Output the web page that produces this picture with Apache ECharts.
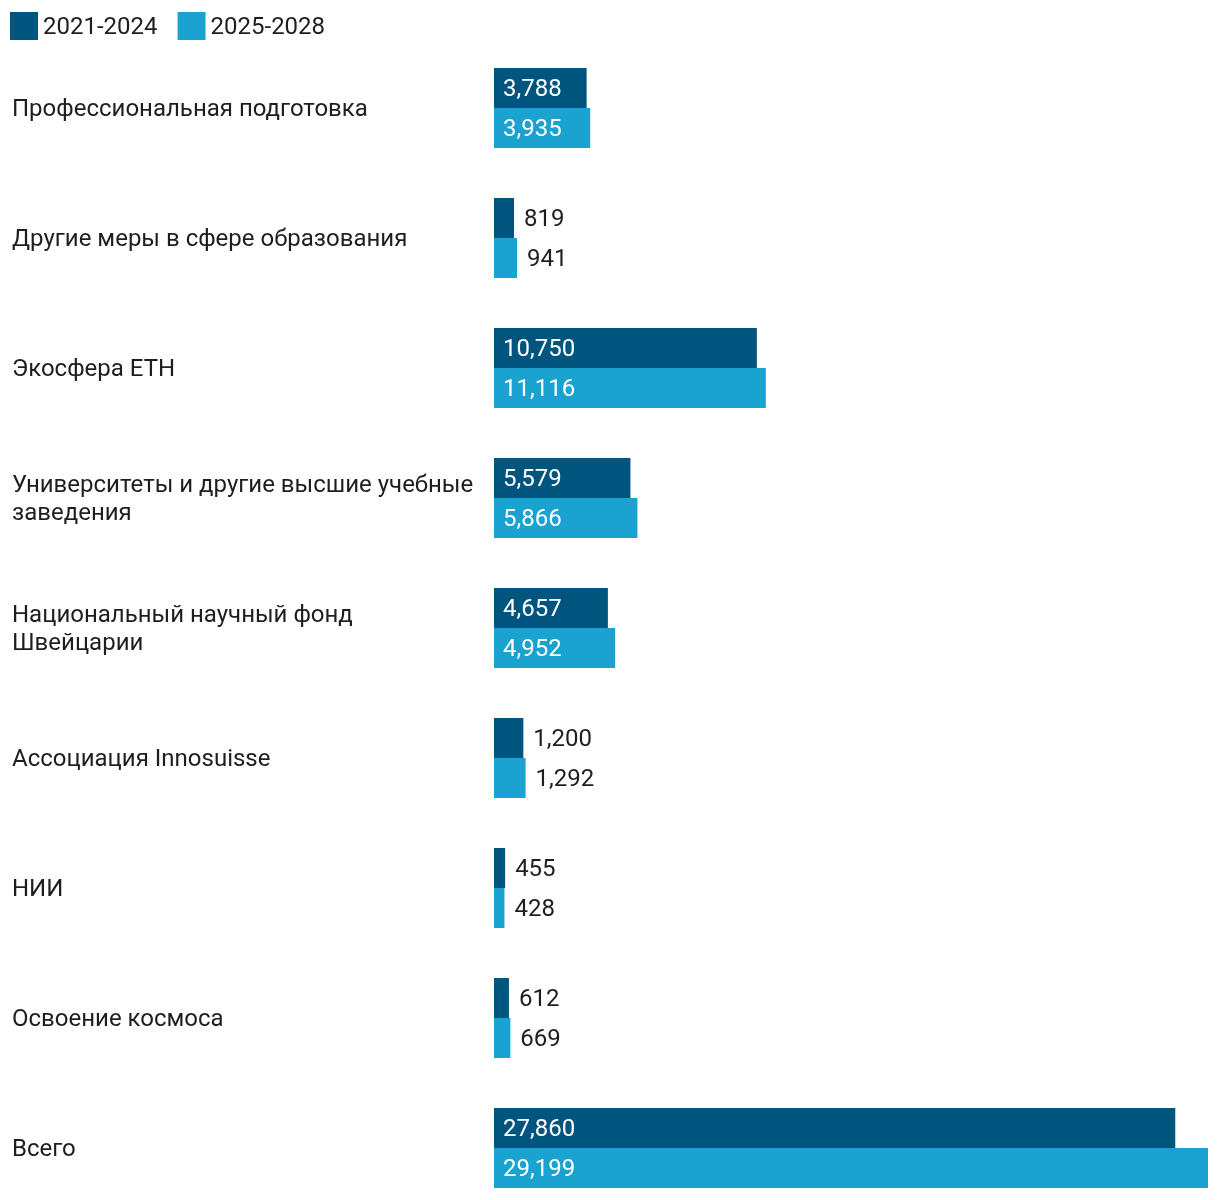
<!DOCTYPE html>
<html><head><meta charset="utf-8">
<script src="https://cdn.jsdelivr.net/npm/echarts@6/dist/echarts.min.js"></script>
<style>html,body{margin:0;padding:0;background:#fff}#c{width:1220px;height:1200px}</style>
</head><body><div id="c"></div>
<script>
const categories = [
  "Профессиональная подготовка",
  "Другие меры в сфере образования",
  "Экосфера ETH",
  "Университеты и другие высшие учебные\nзаведения",
  "Национальный научный фонд\nШвейцарии",
  "Ассоциация Innosuisse",
  "НИИ",
  "Освоение космоса",
  "Всего"
];
const series2021 = [3788, 819, 10750, 5579, 4657, 1200, 455, 612, 27860];
const series2025 = [3935, 941, 11116, 5866, 4952, 1292, 428, 669, 29199];
const seriesNames = ["2021-2024", "2025-2028"];
const colors = ["#00557e", "#1aa2d0"];

const fmt = v => v.toLocaleString('en-US');
function items(arr) {
  return arr.map(v => {
    const inside = v >= 2000;
    return {
      value: v,
      label: inside
        ? { position: 'insideLeft', distance: 9, color: '#ffffff' }
        : { position: 'right', distance: 10, color: '#1e1e1e' }
    };
  });
}
const chart = echarts.init(document.getElementById('c'));
chart.setOption({
  animation: false,
  textStyle: { fontFamily: 'Roboto' },
  legend: {
    left: 10, top: 12, padding: 0, itemWidth: 28, itemHeight: 28, itemGap: 20,
    icon: 'rect',
    formatter: n => '{t|' + n + '}',
    textStyle: { fontSize: 24, color: '#1e1e1e', fontFamily: 'Roboto',
      rich: { t: { fontSize: 24, color: '#1e1e1e', fontFamily: 'Roboto', lineHeight: 28, padding: [4, 0, 0, 0] } } },
    data: seriesNames
  },
  grid: { left: 494, right: 12, top: 43, height: 1170, containLabel: false, outerBoundsMode: 'none' },
  xAxis: { type: 'value', min: 0, max: 'dataMax', show: false },
  yAxis: {
    type: 'category', data: categories, inverse: true,
    axisLine: { show: false }, axisTick: { show: false },
    axisLabel: {
      align: 'left', margin: 482, overflow: 'none', hideOverlap: false,
      fontSize: 24, lineHeight: 28, color: '#1e1e1e', fontFamily: 'Roboto',
      formatter: v => v.split('\n').map(s => '{t|' + s + '}').join('\n'),
      rich: { t: { fontSize: 24, lineHeight: 28, color: '#1e1e1e', fontFamily: 'Roboto', padding: [4, 0, 0, 0] } }
    }
  },
  series: [
    { name: seriesNames[0], type: 'bar', data: items(series2021), barWidth: 40, barGap: '0%',
      itemStyle: { color: colors[0] },
      label: { show: true, fontSize: 24, fontFamily: 'Roboto', offset: [0, 2], formatter: p => fmt(p.value) } },
    { name: seriesNames[1], type: 'bar', data: items(series2025), barWidth: 40, barGap: '0%',
      itemStyle: { color: colors[1] },
      label: { show: true, fontSize: 24, fontFamily: 'Roboto', offset: [0, 2], formatter: p => fmt(p.value) } }
  ]
});
</script></body></html>
